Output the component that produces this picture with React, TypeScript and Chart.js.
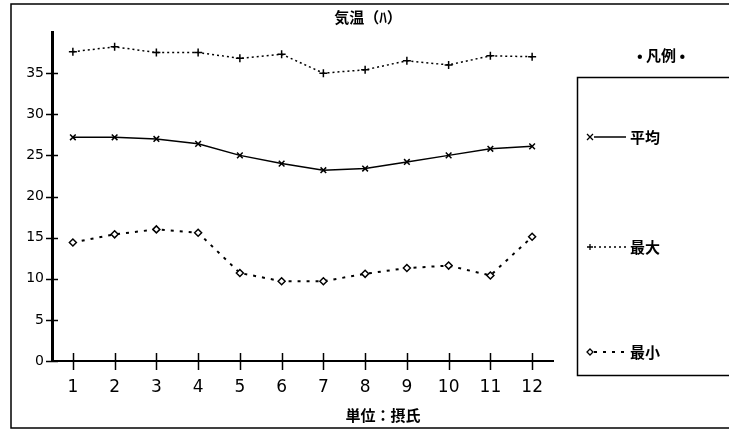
import React, { useEffect, useRef } from 'react';
import { Chart, registerables } from 'chart.js';

Chart.register(...registerables);

const months = ['1', '2', '3', '4', '5', '6', '7', '8', '9', '10', '11', '12'];
const avgTemps = [27.2, 27.2, 27.0, 26.4, 25.0, 24.0, 23.2, 23.4, 24.2, 25.0, 25.8, 26.1];
const maxTemps = [37.6, 38.2, 37.5, 37.5, 36.8, 37.3, 35.0, 35.4, 36.5, 36.0, 37.1, 37.0];
const minTemps = [14.4, 15.4, 16.0, 15.6, 10.7, 9.7, 9.7, 10.6, 11.3, 11.6, 10.4, 15.1];
const yTickValues = [0, 5, 10, 15, 20, 25, 30, 35];
const yMax = 40;
const seriesNames = ['平均', '最大', '最小'];
const titleText = '気温（ﾊ）';
const xTitleText = '単位：摂氏';
const legendTitle = '• 凡例 •';

const CJK = '"Noto Sans CJK JP", sans-serif';

const framePlugin = {
  id: 'frame',
  beforeDraw(chart: any) {
    const { ctx } = chart;
    ctx.save();
    ctx.fillStyle = '#fff';
    ctx.fillRect(0, 0, chart.width, chart.height);
    ctx.strokeStyle = '#000';
    ctx.lineWidth = 1.5;
    ctx.strokeRect(11, 4, chart.width, 424);
    ctx.restore();
  },
};

const textsPlugin = {
  id: 'texts',
  afterDraw(chart: any) {
    const { ctx } = chart;
    ctx.save();
    ctx.fillStyle = '#000';
    ctx.textAlign = 'center';
    ctx.textBaseline = 'middle';
    ctx.font = `bold 15px ${CJK}`;
    ctx.fillText(titleText, 368, 17);
    ctx.fillText(xTitleText, 383, 415);
    ctx.restore();
  },
};

const crossTicksPlugin = {
  id: 'crossTicks',
  afterDraw(chart: any) {
    const { ctx, chartArea, scales } = chart;
    const x = scales.x;
    const y = scales.y;
    ctx.save();
    ctx.strokeStyle = '#000';
    ctx.lineWidth = 1.5;
    y.ticks.forEach((t: any, i: number) => {
      if (t.value >= yMax) return;
      const py = Math.round(y.getPixelForTick(i)) + 0.5;
      ctx.beginPath();
      ctx.moveTo(chartArea.left - 6, py);
      ctx.lineTo(chartArea.left + 6, py);
      ctx.stroke();
    });
    x.ticks.forEach((_t: any, i: number) => {
      const px = Math.round(x.getPixelForTick(i)) + 0.5;
      ctx.beginPath();
      ctx.moveTo(px, chartArea.bottom - 8);
      ctx.lineTo(px, chartArea.bottom + 9);
      ctx.stroke();
    });
    ctx.restore();
  },
};

function drawMarker(ctx: CanvasRenderingContext2D, kind: string, x: number, y: number, r: number) {
  ctx.beginPath();
  if (kind === 'crossRot') {
    ctx.moveTo(x - r, y - r); ctx.lineTo(x + r, y + r);
    ctx.moveTo(x - r, y + r); ctx.lineTo(x + r, y - r);
    ctx.stroke();
  } else if (kind === 'cross') {
    ctx.moveTo(x - r, y); ctx.lineTo(x + r, y);
    ctx.moveTo(x, y - r); ctx.lineTo(x, y + r);
    ctx.stroke();
  } else {
    ctx.moveTo(x, y - r); ctx.lineTo(x + r, y); ctx.lineTo(x, y + r); ctx.lineTo(x - r, y); ctx.closePath();
    ctx.fillStyle = '#fff';
    ctx.fill();
    ctx.stroke();
  }
}

const legendPlugin = {
  id: 'boxLegend',
  afterDraw(chart: any) {
    const { ctx } = chart;
    ctx.save();
    ctx.fillStyle = '#000';
    ctx.font = `bold 15px ${CJK}`;
    ctx.textAlign = 'center';
    ctx.textBaseline = 'middle';
    ctx.fillText(legendTitle, 661, 55);
    ctx.strokeStyle = '#000';
    ctx.lineWidth = 1.5;
    ctx.strokeRect(577.5, 77.5, 200, 298);
    const rows = [137, 247, 352];
    chart.data.datasets.forEach((ds: any, i: number) => {
      const yy = rows[i];
      ctx.strokeStyle = '#000';
      ctx.lineWidth = ds.borderWidth;
      ctx.setLineDash(ds.borderDash || []);
      ctx.beginPath();
      ctx.moveTo(594, yy);
      ctx.lineTo(626, yy);
      ctx.stroke();
      ctx.setLineDash([]);
      ctx.lineWidth = 1.3;
      drawMarker(ctx, ds.pointStyle, 590, yy, 3);
      ctx.fillStyle = '#000';
      ctx.font = `bold 15px ${CJK}`;
      ctx.textAlign = 'left';
      ctx.fillText(ds.label, 630, yy);
    });
    ctx.restore();
  },
};

export default function App() {
  const ref = useRef<HTMLCanvasElement | null>(null);

  useEffect(() => {
    if (!ref.current) return;
    const chart = new Chart(ref.current, {
      type: 'line',
      data: {
        labels: months,
        datasets: [
          {
            label: seriesNames[0],
            data: avgTemps,
            borderColor: '#000',
            borderWidth: 1.5,
            pointStyle: 'crossRot',
            pointRadius: 4,
            pointBorderColor: '#000',
            pointBorderWidth: 1.5,
            tension: 0,
          },
          {
            label: seriesNames[1],
            data: maxTemps,
            borderColor: '#000',
            borderWidth: 1.5,
            borderDash: [2, 3],
            pointStyle: 'cross',
            pointRadius: 4,
            pointBorderColor: '#000',
            pointBorderWidth: 1.5,
            tension: 0,
          },
          {
            label: seriesNames[2],
            data: minTemps,
            borderColor: '#000',
            borderWidth: 2,
            borderDash: [3, 6],
            pointStyle: 'rectRot',
            pointRadius: 3.5,
            pointBackgroundColor: '#fff',
            pointBorderColor: '#000',
            pointBorderWidth: 1.5,
            tension: 0,
          },
        ],
      },
      options: {
        animation: false,
        responsive: false,
        layout: { padding: { left: 0, right: 176, top: 32, bottom: 0 } },
        plugins: {
          legend: { display: false },
          tooltip: { enabled: false },
          title: { display: false },
        },
        scales: {
          x: {
            type: 'category',
            offset: true,
            grid: { display: false, drawTicks: false, offset: false },
            border: { display: true, color: '#000', width: 2 },
            ticks: {
              color: '#000',
              font: { family: '"DejaVu Sans", sans-serif', size: 17 },
              padding: 16,
              maxRotation: 0,
              autoSkip: false,
            },
            afterFit: (scale: any) => {
              scale.height = 74;
            },
          },
          y: {
            min: 0,
            max: yMax,
            grid: { display: false, drawTicks: false },
            border: { display: true, color: '#000', width: 3 },
            afterBuildTicks: (scale: any) => {
              scale.ticks = yTickValues.map((v) => ({ value: v }));
            },
            ticks: {
              color: '#000',
              font: { family: '"DejaVu Sans", sans-serif', size: 14 },
              padding: 8,
            },
            afterFit: (scale: any) => {
              scale.width = 52;
            },
          },
        },
      },
      plugins: [framePlugin, crossTicksPlugin, legendPlugin, textsPlugin],
    });
    return () => chart.destroy();
  }, []);

  return (
    <div style={{ position: 'fixed', left: 0, top: 0, width: 729, height: 435, background: '#fff' }}>
      <canvas ref={ref} width={729} height={435} style={{ display: 'block' }} />
    </div>
  );
}
